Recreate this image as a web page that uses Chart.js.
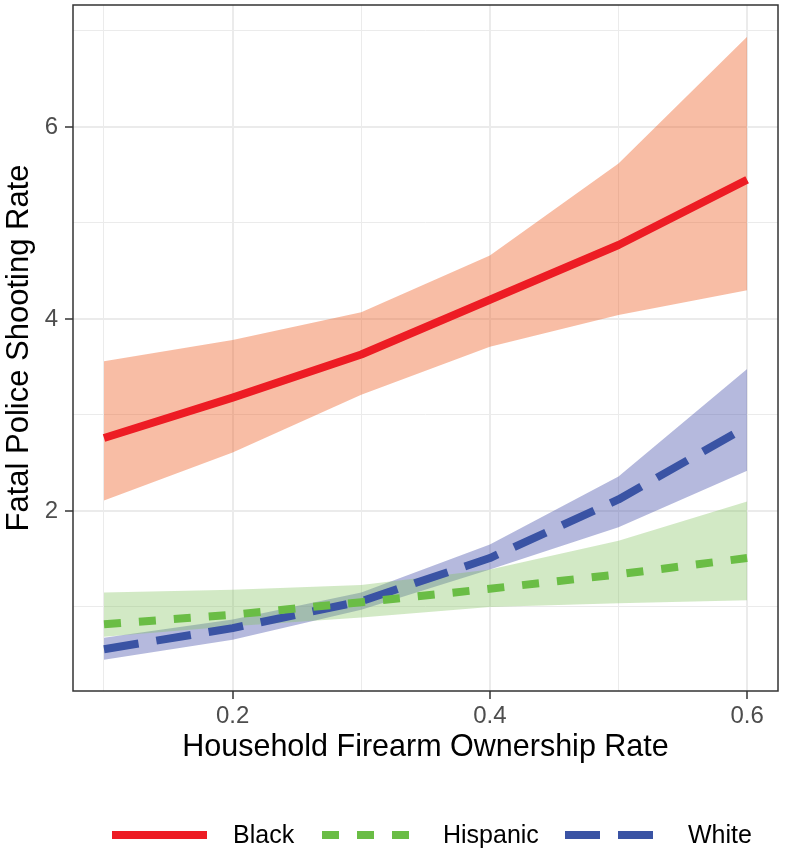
<!DOCTYPE html>
<html>
<head>
<meta charset="utf-8">
<title>Fatal Police Shooting Rate</title>
<script src="https://cdn.jsdelivr.net/npm/chart.js@4.4.0/dist/chart.umd.min.js"></script>
<style>
  html, body { margin: 0; padding: 0; background: #fff; }
  #chart { display: block; }
</style>
</head>
<body>
<canvas id="chart" width="785" height="855"></canvas>
<script>
'use strict';

/* ---- DATA ------------------------------------------------- */
const ownership = [0.1, 0.2, 0.3, 0.4, 0.5, 0.6];

const blackFit   = [2.76, 3.18, 3.63, 4.20, 4.77, 5.45];
const blackLow   = [2.11, 2.61, 3.21, 3.71, 4.04, 4.30];
const blackHigh  = [3.56, 3.78, 4.07, 4.66, 5.62, 6.94];

const hispFit    = [0.82, 0.92, 1.05, 1.19, 1.34, 1.51];
const hispLow    = [0.69, 0.80, 0.89, 1.00, 1.04, 1.07];
const hispHigh   = [1.15, 1.18, 1.23, 1.39, 1.69, 2.10];

const whiteFit   = [0.56, 0.78, 1.06, 1.51, 2.12, 2.88];
const whiteLow   = [0.45, 0.66, 0.97, 1.39, 1.83, 2.42];
const whiteHigh  = [0.68, 0.87, 1.15, 1.65, 2.36, 3.48];

const xTicks = [0.1, 0.2, 0.3, 0.4, 0.5, 0.6];
const xMajor = [0.2, 0.4, 0.6];
const yTicks = [1, 2, 3, 4, 5, 6, 7];
const yMajor = [2, 4, 6];

/* ---- STYLE ------------------------------------------------ */
const COLORS = {
  Black:    { line: '#ED1C24', band: 'rgba(238,98,40,0.42)',  dash: [] },
  Hispanic: { line: '#6ABD45', band: 'rgba(130,195,95,0.36)', dash: [17, 18] },
  White:    { line: '#3A53A4', band: 'rgba(70,80,170,0.40)',  dash: [35, 18] }
};
const FONT = '"Liberation Sans", Arial, Helvetica, sans-serif';
const GRID = '#EBEBEB';

const pts = ys => ownership.map((x, i) => ({ x, y: ys[i] }));

function bandSets(name, lo, hi) {
  const base = { pointRadius: 0, borderWidth: 1, borderColor: 'rgba(0,0,0,0)', tension: 0 };
  return [
    { ...base, label: name + ' low', data: pts(lo), fill: false },
    { ...base, label: name + ' high', data: pts(hi), fill: '-1', backgroundColor: COLORS[name].band }
  ];
}

function lineSet(name, ys) {
  return {
    label: name, data: pts(ys), fill: false, tension: 0, pointRadius: 0,
    borderColor: COLORS[name].line, borderWidth: 8, borderDash: COLORS[name].dash,
    borderCapStyle: 'butt', borderJoinStyle: 'round'
  };
}

/* ---- PLUGINS ---------------------------------------------- */
// panel border, like theme_bw
const panelBorder = {
  id: 'panelBorder',
  afterDraw(chart) {
    const { ctx, chartArea: a } = chart;
    ctx.save();
    ctx.strokeStyle = '#333333';
    ctx.lineWidth = 1.5;
    ctx.strokeRect(a.left, a.top, a.right - a.left, a.bottom - a.top);
    ctx.restore();
  }
};

// bottom legend with dashed keys
const keyLegend = {
  id: 'keyLegend',
  afterDraw(chart) {
    const { ctx } = chart;
    const y = 835;
    const items = [
      { name: 'Black', x0: 112, x1: 207, tx: 233 },
      { name: 'Hispanic', x0: 322, x1: 410, tx: 443 },
      { name: 'White', x0: 565, x1: 653, tx: 688 }
    ];
    ctx.save();
    items.forEach(it => {
      ctx.beginPath();
      ctx.setLineDash(COLORS[it.name].dash);
      ctx.lineCap = 'butt';
      ctx.lineWidth = 8;
      ctx.strokeStyle = COLORS[it.name].line;
      ctx.moveTo(it.x0, y);
      ctx.lineTo(it.x1, y);
      ctx.stroke();
      ctx.setLineDash([]);
      ctx.fillStyle = '#000';
      ctx.font = '25px ' + FONT;
      ctx.textBaseline = 'middle';
      ctx.textAlign = 'left';
      ctx.fillText(it.name, it.tx, y + 1);
    });
    ctx.restore();
  }
};

/* ---- CHART ------------------------------------------------ */
const isMajor = (list, v) => list.some(m => Math.abs(m - v) < 1e-9);

const datasets = [
  ...bandSets('Black', blackLow, blackHigh),
  ...bandSets('Hispanic', hispLow, hispHigh),
  ...bandSets('White', whiteLow, whiteHigh),
  lineSet('Black', blackFit),
  lineSet('Hispanic', hispFit),
  lineSet('White', whiteFit)
];

new Chart(document.getElementById('chart'), {
  type: 'line',
  data: { datasets },
  plugins: [panelBorder, keyLegend],
  options: {
    responsive: false,
    animation: false,
    devicePixelRatio: 1,
    layout: { padding: { top: 5, right: 7, left: 0, bottom: 0 } },
    plugins: {
      legend: { display: false },
      tooltip: { enabled: false },
      filler: { drawTime: 'beforeDatasetsDraw' }
    },
    scales: {
      x: {
        type: 'linear',
        min: 0.0759,
        max: 0.624,
        afterBuildTicks: s => { s.ticks = xTicks.map(v => ({ value: v })); },
        afterFit: s => { s.height = 164; s.paddingLeft = 0; s.paddingRight = 0; },
        border: { display: false },
        grid: {
          color: GRID,
          lineWidth: c => (c.tick && isMajor(xMajor, c.tick.value)) ? 2 : 1,
          tickColor: c => (c.tick && isMajor(xMajor, c.tick.value)) ? '#333333' : 'rgba(0,0,0,0)',
          tickLength: 8,
          tickWidth: 1.5
        },
        ticks: {
          autoSkip: false,
          maxRotation: 0,
          padding: 3,
          color: '#4D4D4D',
          font: { family: FONT, size: 24 },
          callback: v => isMajor(xMajor, v) ? v.toFixed(1) : ''
        },
        title: {
          display: true,
          text: 'Household Firearm Ownership Rate',
          color: '#000',
          font: { family: FONT, size: 30.5 },
          padding: { top: 0, bottom: 89 }
        }
      },
      y: {
        type: 'linear',
        min: 0.125,
        max: 7.27,
        afterBuildTicks: s => { s.ticks = yTicks.map(v => ({ value: v })); },
        afterFit: s => { s.width = 73; s.paddingTop = 0; s.paddingBottom = 0; },
        border: { display: false },
        grid: {
          color: GRID,
          lineWidth: c => (c.tick && isMajor(yMajor, c.tick.value)) ? 2 : 1,
          tickColor: c => (c.tick && isMajor(yMajor, c.tick.value)) ? '#333333' : 'rgba(0,0,0,0)',
          tickLength: 8,
          tickWidth: 1.5
        },
        ticks: {
          autoSkip: false,
          padding: 7,
          color: '#4D4D4D',
          font: { family: FONT, size: 24 },
          callback: v => isMajor(yMajor, v) ? String(v) : ''
        },
        title: {
          display: true,
          text: 'Fatal Police Shooting Rate',
          color: '#000',
          font: { family: FONT, size: 31 },
          padding: { top: 1, bottom: 0 }
        }
      }
    }
  }
});
</script>
</body>
</html>
